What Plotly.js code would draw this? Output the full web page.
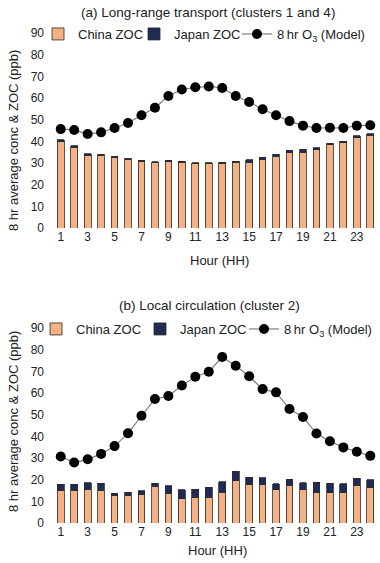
<!DOCTYPE html>
<html><head><meta charset="utf-8">
<script src="https://cdn.plot.ly/plotly-3.0.1.min.js"></script>
<style>html,body{margin:0;padding:0;background:#fff}#chart{width:380px;height:563px}</style>
</head><body><div id="chart"></div>
<script>
const hours = [1,2,3,4,5,6,7,8,9,10,11,12,13,14,15,16,17,18,19,20,21,22,23,24];
const tickHours = [1,3,5,7,9,11,13,15,17,19,21,23];

// (a) Long-range transport (clusters 1 and 4)
const chinaA = [39.8,37.4,33.5,33.5,32.7,31.8,30.7,30.4,30.7,30.4,29.8,29.8,30.0,30.4,30.3,31.6,33.0,34.7,35.1,36.2,38.5,39.5,41.8,42.9];
const japanA = [1.0,0.6,0.7,0.6,0.5,0.4,0.6,0.3,0.5,0.5,0.3,0.3,0.4,0.5,1.2,1.1,1.1,1.2,1.2,0.9,0.6,0.7,0.8,0.7];
const o3A    = [45.7,45.3,43.4,44.2,46.2,48.5,52.1,55.6,61.0,64.0,65.0,65.4,64.7,61.0,58.2,54.9,52.1,49.4,47.3,46.2,46.3,46.2,47.3,47.5];

// (b) Local circulation (cluster 2)
const chinaB = [15.1,15.1,15.6,15.1,12.5,12.6,13.1,17.0,13.7,11.2,11.7,11.8,14.3,19.6,17.9,17.6,15.3,17.3,15.3,14.2,14.0,14.0,17.4,16.5];
const japanB = [2.8,2.8,3.1,3.3,1.2,1.7,1.7,1.4,3.4,4.1,4.0,4.7,4.7,4.4,3.3,3.4,2.9,2.8,3.2,4.6,4.4,4.1,3.3,3.4];
const o3B    = [30.7,27.9,29.4,31.9,35.5,41.4,49.5,57.2,58.6,63.5,67.5,69.8,76.6,72.6,67.7,61.8,60.3,52.6,48.9,41.3,37.7,34.9,32.9,31.0];

const chinaColor = '#F4B183';
const japanColor = '#1F2A55';
const lineColor = '#7F7F7F';
const fontFam = 'Liberation Sans, Arial, sans-serif';
const txt = '#222';

function barTrace(name, y, color, xa, ya, leg) {
  return {type:'bar', name:name, x:hours, y:y, xaxis:xa, yaxis:ya, legend:leg, showlegend:true,
    marker:{color:color, line:{color:'#2a2a2a', width:0.8}}};
}
function lineTrace(y, xa, ya, leg) {
  return {type:'scatter', mode:'lines+markers', name:'8\u2009hr O<sub>3</sub> (Model)', x:hours, y:y,
    xaxis:xa, yaxis:ya, legend:leg, showlegend:true,
    line:{color:lineColor, width:1.2}, marker:{color:'#000', size:10}};
}

const data = [
  barTrace('China ZOC', chinaA, chinaColor, 'x', 'y', 'legend'),
  barTrace('Japan ZOC', japanA, japanColor, 'x', 'y', 'legend2'),
  lineTrace(o3A, 'x', 'y', 'legend3'),
  barTrace('China ZOC', chinaB, chinaColor, 'x2', 'y2', 'legend4'),
  barTrace('Japan ZOC', japanB, japanColor, 'x2', 'y2', 'legend5'),
  lineTrace(o3B, 'x2', 'y2', 'legend6')
];

const xBase = {range:[0.5,24.5], tickvals:tickHours, ticktext:tickHours.map(String),
  showgrid:false, zeroline:false, showline:false, ticks:'', automargin:false,
  tickfont:{size:12, color:txt}};
const yBase = {range:[0,90], dtick:10, showgrid:false, zeroline:false, showline:false, ticks:'',
  automargin:false, tickfont:{size:12, color:txt}, ticklabelstandoff:9};

const legBase = {orientation:'h', xref:'container', yref:'container', xanchor:'left', yanchor:'middle',
  bgcolor:'rgba(0,0,0,0)', font:{size:13, color:txt}};
function leg(xpx, ypx) { return Object.assign({}, legBase, {x:xpx/380, y:1 - ypx/563}); }

function ann(text, xpx, ypx, size, angle) {
  return {text:text, xref:'paper', yref:'paper', x:(xpx-54)/323, y:(563-ypx)/563,
    textangle:angle || 0, showarrow:false, xanchor:'center', yanchor:'middle', font:{size:size, color:txt}};
}

const layout = {
  width:380, height:563,
  margin:{l:54, r:3, t:0, b:0, autoexpand:false},
  showlegend:true,
  paper_bgcolor:'#fff', plot_bgcolor:'#fff',
  font:{family:fontFam, color:txt},
  barmode:'stack', bargap:0.5,
  xaxis:Object.assign({}, xBase, {domain:[0,1], anchor:'y'}),
  yaxis:Object.assign({}, yBase, {domain:[0.595,0.941], anchor:'x'}),
  xaxis2:Object.assign({}, xBase, {domain:[0,1], anchor:'y2'}),
  yaxis2:Object.assign({}, yBase, {domain:[0.071,0.4174], anchor:'x2'}),
  legend:leg(38, 34), legend2:leg(134, 34), legend3:leg(237, 34),
  legend4:leg(36, 329), legend5:leg(140, 329), legend6:leg(244, 329),
  annotations:[
    ann('(a) Long-range transport (clusters 1 and 4)', 208, 13, 13.5),
    ann('(b) Local circulation (cluster 2)', 209, 305, 13.5),
    ann('8 hr average conc & ZOC (ppb)', 13, 141, 13, -90),
    ann('8 hr average conc & ZOC (ppb)', 13, 422, 13, -90),
    ann('Hour (HH)', 219, 260, 13),
    ann('Hour (HH)', 217, 550, 13)
  ]
};

Plotly.newPlot('chart', data, layout, {displayModeBar:false, staticPlot:true});
</script>
</body></html>
